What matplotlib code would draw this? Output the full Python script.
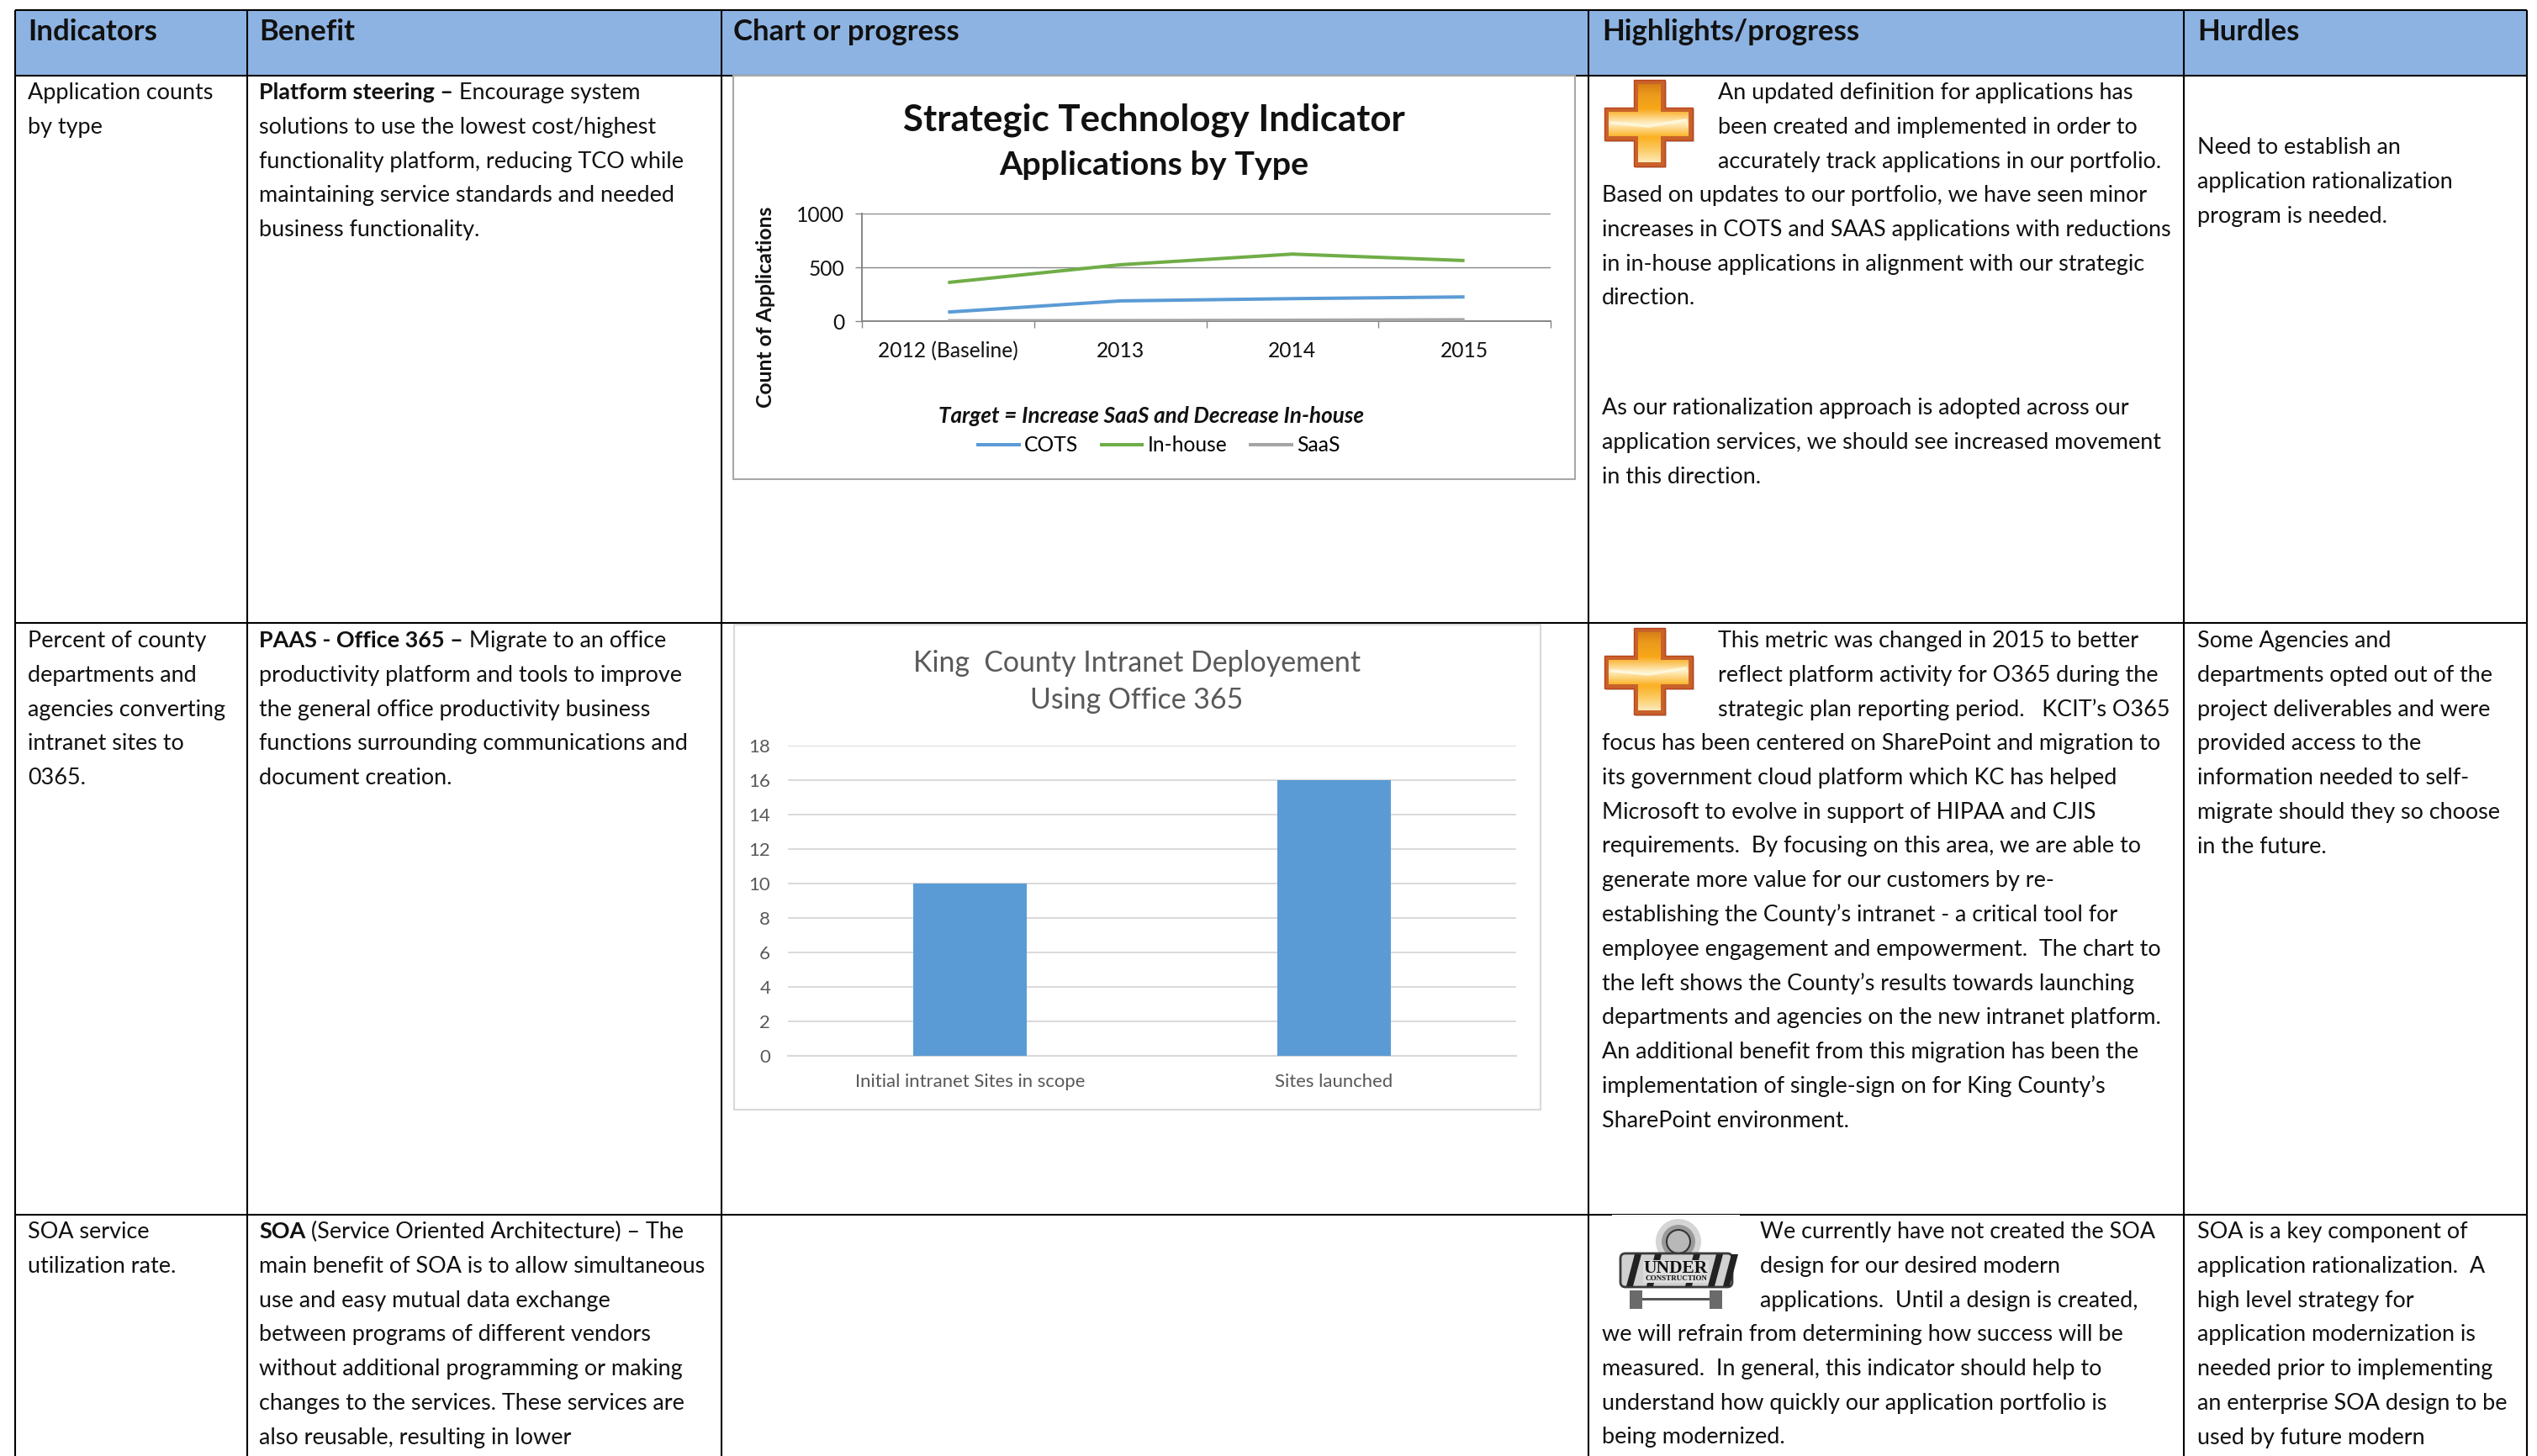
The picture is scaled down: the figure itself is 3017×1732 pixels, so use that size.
"""Indicator table page with two embedded charts, redrawn in pixel coordinates."""

import numpy as np
import matplotlib
matplotlib.use('Agg')
import matplotlib.pyplot as plt
from matplotlib.colors import LinearSegmentedColormap
from matplotlib.patches import Circle, FancyBboxPatch, Polygon, Rectangle

# chart 1
line_years = ['2012 (Baseline)', '2013', '2014', '2015']
cots = [84, 188, 209, 225]
in_house = [359, 524, 623, 563]
saas = [3, 5, 8, 13]
line_yticks = [0, 500, 1000]

# chart 2
bar_labels = ['Initial intranet Sites in scope', 'Sites launched']
bar_values = [10, 16]
bar_yticks = [0, 2, 4, 6, 8, 10, 12, 14, 16, 18]

# table text
headers = ['Indicators', 'Benefit', 'Chart or progress', 'Highlights/progress', 'Hurdles']

r1_indicator = ['Application counts', 'by type']
r1_benefit_bold = 'Platform steering –'
r1_benefit = [' Encourage system',
              'solutions to use the lowest cost/highest',
              'functionality platform, reducing TCO while',
              'maintaining service standards and needed',
              'business functionality.']
r1_high_wrap = ['An updated definition for applications has',
                'been created and implemented in order to',
                'accurately track applications in our portfolio.']
r1_high = ['Based on updates to our portfolio, we have seen minor',
           'increases in COTS and SAAS applications with reductions',
           'in in-house applications in alignment with our strategic',
           'direction.']
r1_high2 = ['As our rationalization approach is adopted across our',
            'application services, we should see increased movement',
            'in this direction.']
r1_hurdles = ['Need to establish an', 'application rationalization', 'program is needed.']

r2_indicator = ['Percent of county', 'departments and', 'agencies converting',
                'intranet sites to', '0365.']
r2_benefit_bold = 'PAAS - Office 365 –'
r2_benefit = [' Migrate to an office',
              'productivity platform and tools to improve',
              'the general office productivity business',
              'functions surrounding communications and',
              'document creation.']
r2_high_wrap = ['This metric was changed in 2015 to better',
                'reflect platform activity for O365 during the',
                'strategic plan reporting period.   KCIT’s O365']
r2_high = ['focus has been centered on SharePoint and migration to',
           'its government cloud platform which KC has helped',
           'Microsoft to evolve in support of HIPAA and CJIS',
           'requirements.  By focusing on this area, we are able to',
           'generate more value for our customers by re-',
           'establishing the County’s intranet - a critical tool for',
           'employee engagement and empowerment.  The chart to',
           'the left shows the County’s results towards launching',
           'departments and agencies on the new intranet platform.',
           'An additional benefit from this migration has been the',
           'implementation of single-sign on for King County’s',
           'SharePoint environment.']
r2_hurdles = ['Some Agencies and', 'departments opted out of the',
              'project deliverables and were', 'provided access to the',
              'information needed to self-', 'migrate should they so choose',
              'in the future.']

r3_indicator = ['SOA service', 'utilization rate.']
r3_benefit_bold = 'SOA'
r3_benefit = [' (Service Oriented Architecture) – The',
              'main benefit of SOA is to allow simultaneous',
              'use and easy mutual data exchange',
              'between programs of different vendors',
              'without additional programming or making',
              'changes to the services. These services are',
              'also reusable, resulting in lower']
r3_high_wrap = ['We currently have not created the SOA',
                'design for our desired modern',
                'applications.  Until a design is created,']
r3_high = ['we will refrain from determining how success will be',
           'measured.  In general, this indicator should help to',
           'understand how quickly our application portfolio is',
           'being modernized.']
r3_hurdles = ['SOA is a key component of', 'application rationalization.  A',
              'high level strategy for', 'application modernization is',
              'needed prior to implementing', 'an enterprise SOA design to be',
              'used by future modern']

W, H = 3017, 1732
FONT = 'Lato'
BODY = 19.45
STEP = 40.8
plt.rcParams['font.family'] = [FONT, 'DejaVu Sans']

fig = plt.figure(figsize=(W / 100, H / 100), dpi=100, facecolor='white')
page = fig.add_axes([0, 0, 1, 1], zorder=1)
page.set_xlim(0, W)
page.set_ylim(H, 0)
page.axis('off')


def axes_px(left, top, right, bottom):
    """Axes placed by pixel edges, y measured from the top of the page."""
    ax = fig.add_axes([left / W, 1 - bottom / H, (right - left) / W, (bottom - top) / H], zorder=3)
    ax.patch.set_alpha(0)
    return ax


def block(x, y, lines, bold_prefix=None):
    """Draw lines of body text; y is the centre of the first line."""
    for i, line in enumerate(lines):
        base = y + i * STEP + 8
        x0 = x
        if i == 0 and bold_prefix:
            t = page.text(x, base, bold_prefix, fontsize=BODY, fontweight='bold', va='baseline', color='#111111')
            x0 = x + t.get_window_extent(fig.canvas.get_renderer()).width
        page.text(x0, base, line, fontsize=BODY, va='baseline', color='#111111')


# table frame
cols = [18, 294, 858, 1889, 2597, 3005]
rows = [12, 90, 741, 1445]
page.add_patch(Rectangle((cols[0], rows[0]), cols[-1] - cols[0], rows[1] - rows[0], fc='#8db3e2', ec='none'))
for x in cols:
    page.plot([x, x], [rows[0], H], color='black', lw=1.5, solid_capstyle='butt')
for y in rows:
    page.plot([cols[0], cols[-1]], [y, y], color='black', lw=1.5, solid_capstyle='butt')

text_x = [33, 308, 872, 1905, 2613]
for x, label in zip(text_x, headers):
    page.text(x, 48, label, fontsize=25, fontweight='bold', va='baseline', color='#111111')

# row 1
block(text_x[0], 110, r1_indicator)
block(text_x[1], 110, r1_benefit, r1_benefit_bold)
block(2043, 110, r1_high_wrap)
block(text_x[3], 232, r1_high)
block(text_x[3], 485, r1_high2)
block(text_x[4], 175, r1_hurdles)

# row 2
block(text_x[0], 762, r2_indicator)
block(text_x[1], 762, r2_benefit, r2_benefit_bold)
block(2043, 762, r2_high_wrap)
block(text_x[3], 884, r2_high)
block(text_x[4], 762, r2_hurdles)

# row 3
block(text_x[0], 1465, r3_indicator)
block(text_x[1], 1465, r3_benefit, r3_benefit_bold)
block(2093, 1465, r3_high_wrap)
block(text_x[3], 1587, r3_high)
block(text_x[4], 1465, r3_hurdles)


def plus_icon(dy):
    outer = [(1943, 95), (1980, 95), (1980, 128), (2013, 128), (2013, 167), (1980, 167),
             (1980, 198), (1943, 198), (1943, 167), (1908, 167), (1908, 128), (1943, 128)]
    inner = [(1948, 100), (1975, 100), (1975, 133), (2008, 133), (2008, 162), (1975, 162),
             (1975, 193), (1948, 193), (1948, 162), (1913, 162), (1913, 133), (1948, 133)]
    outer = [(x, y + dy) for x, y in outer]
    inner = [(x, y + dy) for x, y in inner]
    page.add_patch(Polygon([(x + 2, y + 2) for x, y in outer], fc='#b9b1a6', ec='none', alpha=0.6, zorder=2))
    page.add_patch(Polygon(outer, fc='#c9622a', ec='#b8431d', lw=1, zorder=2))
    cmap = LinearSegmentedColormap.from_list(
        'plus', ['#cf7414', '#ec9a1c', '#f8a818', '#fff0c8', '#fbb020', '#fbd070', '#fff4d8'])
    grad = np.linspace(0, 1, 128).reshape(-1, 1)
    im = page.imshow(grad, cmap=cmap, extent=(1908, 2013, 198 + dy, 95 + dy), aspect='auto', zorder=3)
    im.set_clip_path(Polygon(inner, transform=page.transData))
    page.plot([1917, 1960, 2004], [146 + dy, 150 + dy, 143 + dy], color='#fff6d8', lw=2.5, zorder=4)
    page.set_xlim(0, W)
    page.set_ylim(H, 0)


def construction_icon():
    page.add_patch(Rectangle((1917, 1445.4), 152, 1.0, fc='white', ec='none', zorder=2))
    page.add_patch(Circle((1996, 1477), 27, fc='#c4c4c4', ec='none', alpha=0.7, zorder=2))
    page.add_patch(Circle((1996, 1477), 20, fc='#9a9a9a', ec='none', zorder=2))
    page.add_patch(Circle((1996, 1477), 14, fc='#b8b8b8', ec='#333333', lw=1.5, zorder=3))
    for x in (1938, 2033):
        page.add_patch(Rectangle((x, 1535), 15, 22, fc='#6a6a6a', ec='none', zorder=2))
    page.add_patch(Rectangle((1953, 1544), 80, 2.5, fc='#555555', ec='none', zorder=2))
    board = FancyBboxPatch((1927, 1491), 133, 40, boxstyle='round,pad=0,rounding_size=6',
                           fc='#d0d0d0', ec='#3a3a3a', lw=2, zorder=3)
    page.add_patch(board)
    for x in (1935, 1959, 2005, 2032, 2050):
        stripe = Polygon([(x + 9, 1492), (x + 17, 1492), (x + 7, 1530), (x - 1, 1530)],
                         fc='#222222', ec='none', zorder=4)
        page.add_patch(stripe)
    page.add_patch(Rectangle((1954, 1499), 78, 27, fc='#dddddd', ec='none', zorder=4))
    page.text(1993, 1509, 'UNDER', family='Liberation Serif', fontweight='bold', fontsize=15.5,
              ha='center', va='center', color='#111111', zorder=5)
    page.text(1993, 1521, 'CONSTRUCTION', family='Liberation Serif', fontweight='bold', fontsize=6.5,
              ha='center', va='center', color='#111111', zorder=5)


plus_icon(0)
plus_icon(652)
construction_icon()

# chart 1: applications by type
page.add_patch(Rectangle((872, 90), 1001, 480, fc='white', ec='#a8a8a8', lw=1.5, zorder=2))
ax1 = axes_px(1025, 254, 1844, 382)
x_mid = np.arange(len(line_years)) + 0.5
ax1.plot(x_mid, cots, color='#5b9bd5', lw=2.9, solid_capstyle='butt', label='COTS', zorder=3)
ax1.plot(x_mid, in_house, color='#70ad47', lw=2.9, solid_capstyle='butt', label='In-house', zorder=3)
ax1.plot(x_mid, saas, color='#a5a5a5', lw=2.9, solid_capstyle='butt', label='SaaS', zorder=3)
ax1.set_xlim(0, len(line_years))
ax1.set_ylim(0, 1000)
ax1.set_yticks(line_yticks)
ax1.set_xticks(np.arange(len(line_years) + 1))
ax1.set_xticklabels([])
ax1.set_xticks(x_mid, minor=True)
ax1.set_xticklabels(line_years, minor=True)
ax1.tick_params(axis='x', which='major', length=6, width=1, color='#868686')
ax1.tick_params(axis='x', which='minor', length=0, pad=17, labelsize=17.7, labelcolor='#111111')
ax1.tick_params(axis='y', length=6, width=1, color='#868686', labelsize=17.7, labelcolor='#111111', pad=9)
ax1.grid(axis='y', color='#868686', lw=1)
ax1.set_axisbelow(True)
for side in ('top', 'right'):
    ax1.spines[side].set_visible(False)
for side in ('left', 'bottom'):
    ax1.spines[side].set_color('#868686')
    ax1.spines[side].set_linewidth(1.4)
page.text(1372, 143, 'Strategic Technology Indicator', fontsize=31.5, fontweight='bold',
          ha='center', va='center', color='#111111', zorder=5)
page.text(1372, 197, 'Applications by Type', fontsize=28.4, fontweight='bold',
          ha='center', va='center', color='#111111', zorder=5)
page.text(911, 365, 'Count of Applications', fontsize=17.8, fontweight='bold', rotation=90,
          ha='center', va='center', color='#111111', zorder=5)
page.text(1369, 495, 'Target = Increase SaaS and Decrease In-house', fontsize=18.7, fontweight='bold',
          style='italic', ha='center', va='center', color='#111111', zorder=5)
ax1.legend(loc='center', bbox_to_anchor=((1377 - 1025) / 819, -(530 - 382) / 128), ncol=3, frameon=False,
           fontsize=17.7, handlelength=2.15, handletextpad=0.16, columnspacing=1.05, borderpad=0)

# chart 2: intranet deployment
page.add_patch(Rectangle((873, 743), 959, 577, fc='white', ec='#d9d9d9', lw=1.5, zorder=2))
ax2 = axes_px(937, 887, 1803, 1256)
bar_pos = np.arange(len(bar_labels))
ax2.bar(bar_pos, bar_values, width=0.314, color='#5b9bd5', zorder=3)
ax2.set_xlim(-0.5, len(bar_labels) - 0.5)
ax2.set_ylim(0, 18)
ax2.set_yticks(bar_yticks)
ax2.set_xticks(bar_pos)
ax2.set_xticklabels(bar_labels)
ax2.tick_params(length=0, labelsize=15.9, labelcolor='#595959')
ax2.tick_params(axis='x', pad=15)
ax2.tick_params(axis='y', pad=15)
ax2.grid(axis='y', color='#d9d9d9', lw=1.4)
ax2.set_axisbelow(True)
for side in ('top', 'right', 'left'):
    ax2.spines[side].set_visible(False)
ax2.spines['bottom'].set_color('#d9d9d9')
ax2.spines['bottom'].set_linewidth(1.6)
page.text(1352, 789, 'King  County Intranet Deployement', fontsize=24.4, ha='center', va='center',
          color='#595959', zorder=5)
page.text(1352, 833, 'Using Office 365', fontsize=24.4, ha='center', va='center', color='#595959', zorder=5)

fig.savefig('out.png', dpi=100)
plt.close(fig)
